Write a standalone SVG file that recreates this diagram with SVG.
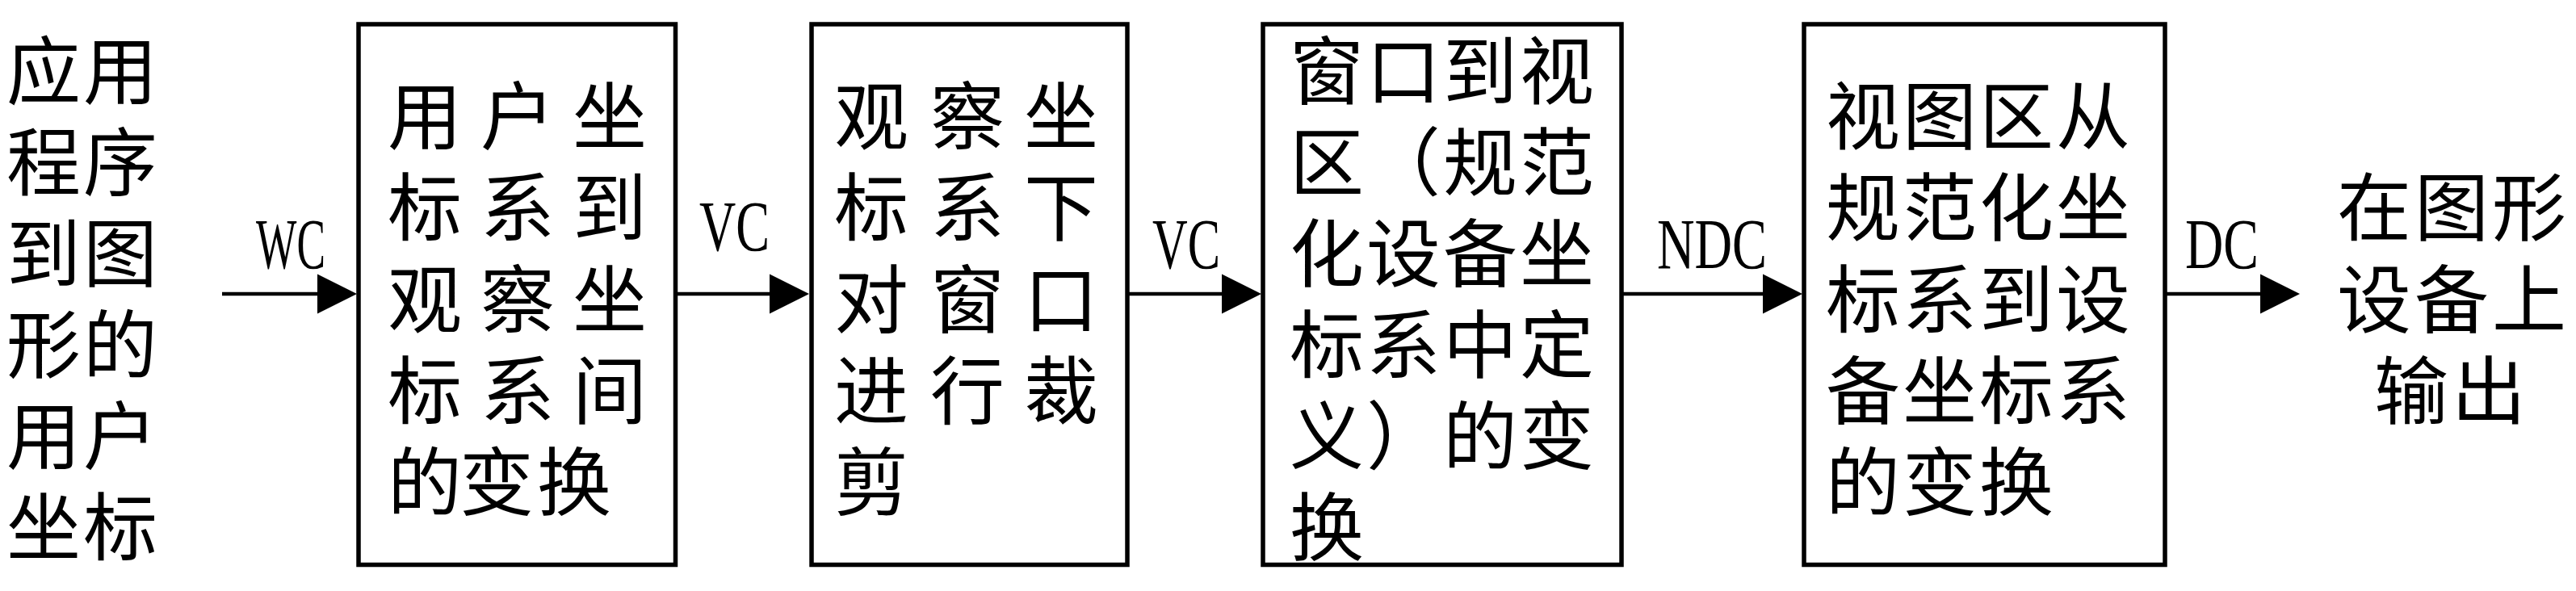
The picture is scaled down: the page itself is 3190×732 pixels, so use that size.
<svg xmlns="http://www.w3.org/2000/svg" width="3190" height="732" viewBox="0 0 3190 732">
<style>
.box{fill:#fff;stroke:#000;stroke-width:5.5}
.cn{font-family:"Noto Sans CJK SC","Noto Sans CJK JP",sans-serif;font-size:92px;fill:#000}
.lbl{font-family:"Liberation Serif","DejaVu Serif",serif;font-size:88px;fill:#000}
.conn{stroke:#000;stroke-width:4.5;fill:none;marker-end:url(#ah)}
</style>
<defs>
<marker id="ah" markerUnits="userSpaceOnUse" markerWidth="50" markerHeight="50" refX="2" refY="24.5" orient="auto" viewBox="0 0 50 49">
<path d="M0,0 L49,24.5 L0,49 Z" fill="#000"/>
</marker>
</defs>
<rect width="3190" height="732" fill="#fff"/>

<g id="source">
<text class="cn"><tspan x="8 103" y="122">应用</tspan><tspan x="8 103" y="235">程序</tspan><tspan x="8 103" y="348">到图</tspan><tspan x="8 103" y="461">形的</tspan><tspan x="8 103" y="574">用户</tspan><tspan x="8 103" y="687">坐标</tspan></text>
</g>

<g id="node1">
<rect class="box" x="444" y="30" width="392.5" height="669.5"/>
<text class="cn"><tspan x="480 595 709" y="178">用户坐</tspan><tspan x="480 595 709" y="291">标系到</tspan><tspan x="480 595 709" y="405">观察坐</tspan><tspan x="480 595 709" y="518">标系间</tspan><tspan x="480 569 665" y="631">的变换</tspan></text>
</g>

<g id="node2">
<rect class="box" x="1005" y="30" width="391" height="669.5"/>
<text class="cn"><tspan x="1033 1152 1268" y="178">观察坐</tspan><tspan x="1033 1152 1268" y="291">标系下</tspan><tspan x="1033 1152 1268" y="405">对窗口</tspan><tspan x="1033 1152 1268" y="518">进行裁</tspan><tspan x="1033" y="631">剪</tspan></text>
</g>

<g id="node3">
<rect class="box" x="1564" y="30" width="444" height="669.5"/>
<text class="cn"><tspan x="1597 1692 1787 1882" y="122">窗口到视</tspan><tspan x="1597 1692 1787 1882" y="235">区（规范</tspan><tspan x="1597 1692 1787 1882" y="348">化设备坐</tspan><tspan x="1597 1692 1787 1882" y="461">标系中定</tspan><tspan x="1597 1692 1787 1882" y="574">义）的变</tspan><tspan x="1597" y="687">换</tspan></text>
</g>

<g id="node4">
<rect class="box" x="2234" y="30" width="447" height="669.5"/>
<text class="cn"><tspan x="2261 2356 2451 2546" y="178">视图区从</tspan><tspan x="2261 2356 2451 2546" y="291">规范化坐</tspan><tspan x="2261 2356 2451 2546" y="405">标系到设</tspan><tspan x="2261 2356 2451 2546" y="518">备坐标系</tspan><tspan x="2261 2356 2451" y="631">的变换</tspan></text>
</g>

<g id="sink">
<text class="cn"><tspan x="2894 2990 3086" y="291">在图形</tspan><tspan x="2894 2990 3086" y="405">设备上</tspan><tspan x="2940 3036" y="518">输出</tspan></text>
</g>

<g id="connectors">
<line class="conn" x1="275" y1="364" x2="395" y2="364"/>
<line class="conn" x1="836" y1="364" x2="955" y2="364"/>
<line class="conn" x1="1396" y1="364" x2="1515" y2="364"/>
<line class="conn" x1="2008" y1="364" x2="2185" y2="364"/>
<line class="conn" x1="2681" y1="364" x2="2801" y2="364"/>
<text class="lbl" x="317" y="332" textLength="86" lengthAdjust="spacingAndGlyphs">WC</text>
<text class="lbl" x="866" y="310" textLength="87" lengthAdjust="spacingAndGlyphs">VC</text>
<text class="lbl" x="1427" y="332" textLength="84" lengthAdjust="spacingAndGlyphs">VC</text>
<text class="lbl" x="2052" y="332" textLength="136" lengthAdjust="spacingAndGlyphs">NDC</text>
<text class="lbl" x="2706" y="332" textLength="91" lengthAdjust="spacingAndGlyphs">DC</text>
</g>
</svg>
